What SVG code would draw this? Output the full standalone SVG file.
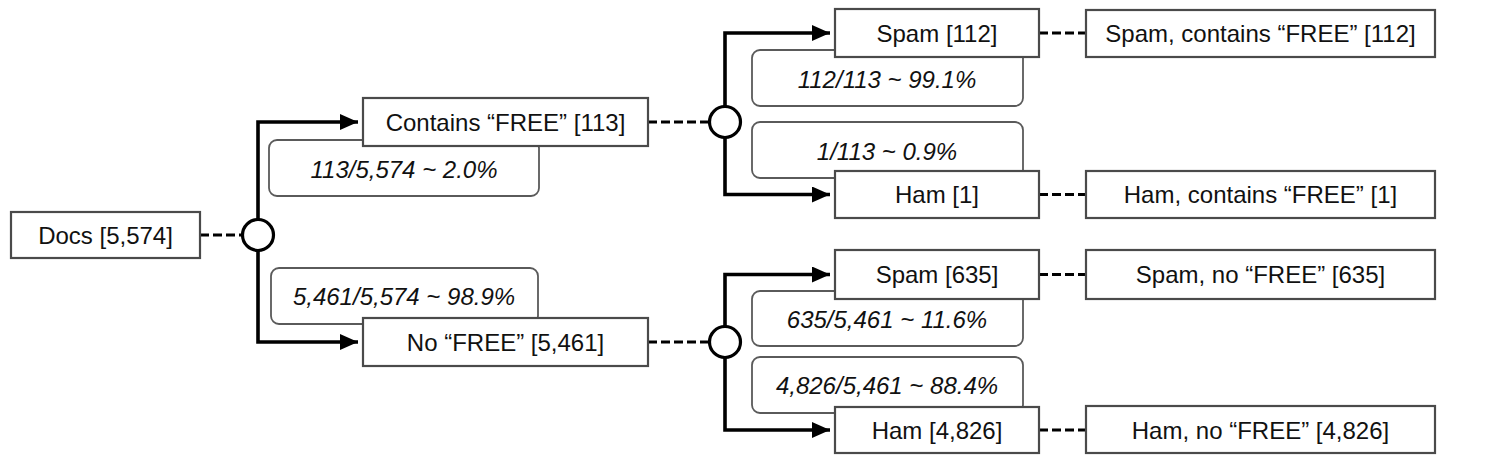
<svg xmlns="http://www.w3.org/2000/svg" width="1491" height="467" viewBox="0 0 1491 467">
<defs>
<marker id="arr" markerWidth="20" markerHeight="20" refX="18" refY="8" orient="auto" markerUnits="userSpaceOnUse">
<path d="M0,0 L18,8 L0,16 Z" fill="#000"/>
</marker>
<style>
.node{fill:#fff;stroke:#4a4a4a;stroke-width:2.2}
.lbl{fill:#fff;stroke:#5a5a5a;stroke-width:1.8}
.t{font-family:"Liberation Sans",Arial,sans-serif;font-size:24px;fill:#111;text-anchor:middle}
.ti{font-family:"Liberation Sans",Arial,sans-serif;font-size:24px;font-style:italic;fill:#111;text-anchor:middle}
.edge{fill:none;stroke:#000;stroke-width:3.6}
.dash{fill:none;stroke:#000;stroke-width:3.2;stroke-dasharray:9,4}
.chance{fill:#fff;stroke:#000;stroke-width:3.2}
</style>
</defs>
<rect width="1491" height="467" fill="#fff"/>

<g id="connectors">
<line class="dash" x1="200" y1="235" x2="243" y2="235"/>
<line class="dash" x1="648" y1="122" x2="710" y2="122"/>
<line class="dash" x1="648" y1="342" x2="710" y2="342"/>
<line class="dash" x1="1039" y1="33" x2="1086" y2="33"/>
<line class="dash" x1="1039" y1="194.5" x2="1086" y2="194.5"/>
<line class="dash" x1="1039" y1="274.5" x2="1086" y2="274.5"/>
<line class="dash" x1="1039" y1="430" x2="1086" y2="430"/>
<path class="edge" d="M258,219.5 V122 H358" marker-end="url(#arr)"/>
<path class="edge" d="M258,250.5 V342 H358" marker-end="url(#arr)"/>
<path class="edge" d="M725,106.5 V33 H830" marker-end="url(#arr)"/>
<path class="edge" d="M725,137.5 V194.5 H830" marker-end="url(#arr)"/>
<path class="edge" d="M725,326.5 V274.5 H830" marker-end="url(#arr)"/>
<path class="edge" d="M725,357.5 V430 H830" marker-end="url(#arr)"/>
</g>

<g id="label-113-5574"><rect class="lbl" x="269" y="140" width="270" height="56" rx="8"/><text class="ti" x="404" y="178">113/5,574 ~ 2.0%</text></g>
<g id="label-5461-5574"><rect class="lbl" x="271" y="268" width="267" height="56" rx="8"/><text class="ti" x="404" y="305">5,461/5,574 ~ 98.9%</text></g>
<g id="label-112-113"><rect class="lbl" x="752" y="50" width="271" height="56" rx="8"/><text class="ti" x="887" y="88">112/113 ~ 99.1%</text></g>
<g id="label-1-113"><rect class="lbl" x="752" y="122" width="271" height="56" rx="8"/><text class="ti" x="887" y="160">1/113 ~ 0.9%</text></g>
<g id="label-635-5461"><rect class="lbl" x="752" y="291" width="271" height="55" rx="8"/><text class="ti" x="887" y="328">635/5,461 ~ 11.6%</text></g>
<g id="label-4826-5461"><rect class="lbl" x="752" y="357" width="271" height="56" rx="8"/><text class="ti" x="887" y="394">4,826/5,461 ~ 88.4%</text></g>

<g id="docs"><rect class="node" x="11" y="212" width="189" height="46"/><text class="t" x="105.5" y="243.5">Docs [5,574]</text></g>
<g id="split1"><circle class="chance" cx="258" cy="235" r="15.5"/></g>
<g id="contains"><rect class="node" x="363" y="98" width="285" height="48"/><text class="t" x="505.5" y="130.5">Contains “FREE” [113]</text></g>
<g id="nofree"><rect class="node" x="363" y="318" width="285" height="48"/><text class="t" x="505.5" y="350.5">No “FREE” [5,461]</text></g>
<g id="split2"><circle class="chance" cx="725" cy="122" r="15.5"/></g>
<g id="split3"><circle class="chance" cx="725" cy="342" r="15.5"/></g>
<g id="spam112"><rect class="node" x="835" y="9" width="204" height="48"/><text class="t" x="937" y="41.5">Spam [112]</text></g>
<g id="ham1"><rect class="node" x="835" y="171" width="204" height="47"/><text class="t" x="937" y="203">Ham [1]</text></g>
<g id="spam635"><rect class="node" x="835" y="250" width="204" height="49"/><text class="t" x="937" y="283">Spam [635]</text></g>
<g id="ham4826"><rect class="node" x="835" y="407" width="204" height="46"/><text class="t" x="937" y="438.5">Ham [4,826]</text></g>
<g id="res-spam-free"><rect class="node" x="1086" y="10" width="349" height="47"/><text class="t" x="1260.5" y="41.5">Spam, contains “FREE” [112]</text></g>
<g id="res-ham-free"><rect class="node" x="1086" y="171" width="349" height="47"/><text class="t" x="1260.5" y="203">Ham, contains “FREE” [1]</text></g>
<g id="res-spam-nofree"><rect class="node" x="1086" y="250" width="349" height="49"/><text class="t" x="1260.5" y="283">Spam, no “FREE” [635]</text></g>
<g id="res-ham-nofree"><rect class="node" x="1086" y="406" width="349" height="47"/><text class="t" x="1260.5" y="438.5">Ham, no “FREE” [4,826]</text></g>
</svg>
